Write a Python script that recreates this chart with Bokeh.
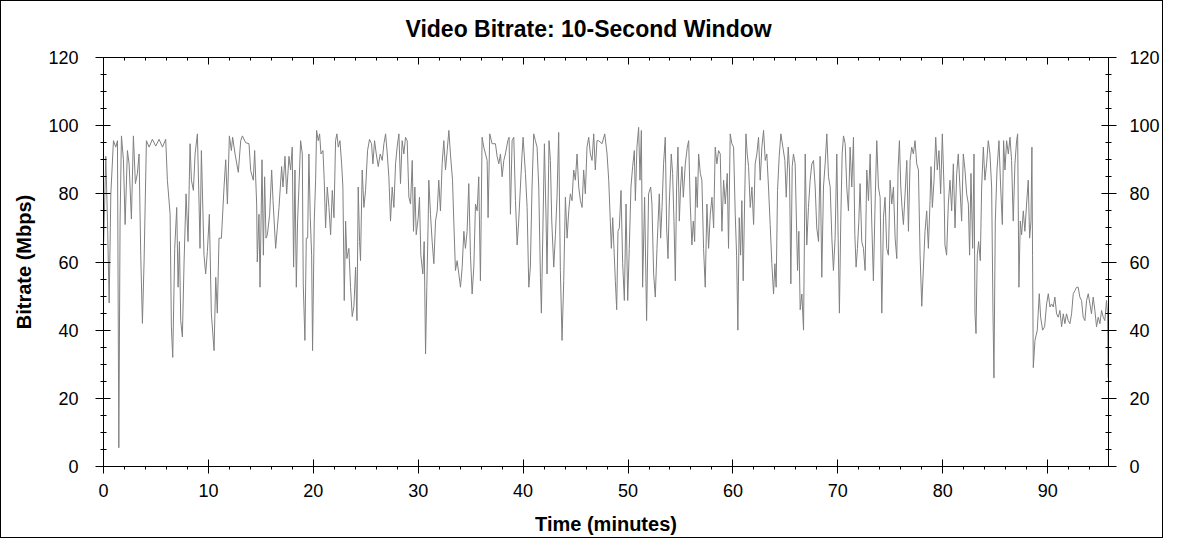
from bokeh.plotting import figure
from bokeh.models import LinearAxis, SingleIntervalTicker, Range1d
from bokeh.embed import file_html
from bokeh.resources import INLINE

title_text = "Video Bitrate: 10-Second Window"
x_label = "Time (minutes)"
y_label = "Bitrate (Mbps)"

time_min = [
    0.02, 0.22, 0.38, 0.54, 0.70, 0.95, 1.17, 1.33, 1.46, 1.58, 1.71, 1.90, 2.06, 2.28, 2.44, 2.66, 2.85, 3.04, 3.23, 3.39,
    3.55, 3.71, 3.87, 4.09, 4.35, 4.66, 4.98, 5.30, 5.62, 5.93, 6.09, 6.35, 6.47, 6.60, 6.79, 6.98, 7.11, 7.24, 7.36, 7.52,
    7.68, 7.87, 8.06, 8.25, 8.38, 8.57, 8.73, 8.95, 9.11, 9.20, 9.33, 9.58, 9.74, 9.90, 10.09, 10.28, 10.54, 10.70, 10.85, 11.01,
    11.24, 11.49, 11.65, 11.81, 12.00, 12.19, 12.31, 12.54, 12.85, 13.08, 13.24, 13.55, 13.87, 14.03, 14.28, 14.41, 14.60, 14.66, 14.82, 14.92,
    15.11, 15.24, 15.36, 15.49,
    15.62, 15.84, 16.03, 16.16, 16.41, 16.57, 16.73, 16.98, 17.11, 17.30, 17.46, 17.68, 17.84, 17.99, 18.12, 18.25, 18.38, 18.50, 18.63, 18.79,
    18.95, 19.04, 19.20, 19.33, 19.46, 19.58, 19.71, 19.84, 19.93, 20.09, 20.22, 20.31, 20.47, 20.60, 20.73, 20.92, 21.04, 21.17, 21.33, 21.49,
    21.65, 21.81, 21.97, 22.12, 22.25, 22.38, 22.54, 22.70, 22.82, 22.95, 23.08, 23.20, 23.39, 23.55, 23.71, 23.87, 24.03, 24.16, 24.28, 24.41,
    24.50, 24.66, 24.82, 24.98, 25.17, 25.36, 25.55, 25.68, 25.84, 26.00, 26.19, 26.38, 26.57, 26.73, 26.89, 27.05, 27.20, 27.36, 27.52, 27.68,
    27.84, 27.99, 28.16, 28.31, 28.47, 28.63, 28.79, 28.95, 29.11, 29.27, 29.43, 29.55, 29.68, 29.81, 30.00, 30.12, 30.25, 30.44, 30.57, 30.70,
    30.82, 30.95, 31.01, 31.17,
    31.33, 31.49, 31.65, 31.81, 31.96, 32.12, 32.28, 32.44, 32.60, 32.76, 32.92, 33.07, 33.27, 33.39, 33.55, 33.71, 33.87, 34.03, 34.19, 34.35,
    34.50, 34.66, 34.82, 34.98, 35.14, 35.30, 35.46, 35.62, 35.77, 35.93, 36.09, 36.25, 36.57, 36.66, 36.82, 37.04, 37.36, 37.52, 37.68, 37.84,
    38.00, 38.16, 38.31, 38.54, 38.66, 38.79, 38.95, 39.11, 39.27, 39.43, 39.58, 39.74, 39.90, 40.00, 40.22, 40.38, 40.54, 40.69, 40.85, 41.01,
    41.17, 41.33, 41.49, 41.65, 41.74, 41.87, 42.03, 42.19, 42.28, 42.47, 42.60, 42.73, 42.92, 43.08, 43.23, 43.39, 43.55, 43.71, 43.87, 44.03,
    44.19, 44.35, 44.50, 44.66, 44.82, 44.98, 45.14, 45.30, 45.46, 45.62, 45.77, 45.93, 46.09, 46.25, 46.41, 46.57, 46.73, 46.88, 47.04,
    47.20, 47.52, 47.78, 48.00, 48.16, 48.31, 48.41, 48.54, 48.66, 48.79, 48.92, 49.04, 49.17, 49.33, 49.49, 49.65, 49.81, 49.97, 50.12, 50.28,
    50.44, 50.60, 50.70, 50.85, 51.01, 51.14, 51.27, 51.39, 51.58, 51.77, 51.96, 52.16, 52.28, 52.44, 52.60, 52.76, 52.98, 53.11, 53.24, 53.39,
    53.55, 53.68, 53.81, 53.93, 54.12, 54.25, 54.38, 54.51, 54.63, 54.76, 54.89, 55.01, 55.14, 55.27, 55.46, 55.65, 55.78, 55.93, 56.09, 56.22,
    56.35, 56.47, 56.60, 56.73, 56.89, 57.04, 57.20, 57.36, 57.52, 57.68, 57.84, 58.00, 58.16, 58.31, 58.47, 58.63, 58.79, 58.95, 59.11, 59.27,
    59.46, 59.58, 59.74, 59.90, 60.06, 60.22, 60.35, 60.47, 60.60, 60.73, 60.85, 60.98, 61.11, 61.24, 61.36, 61.49, 61.65, 61.81, 61.97, 62.12,
    62.28, 62.44, 62.60,
    62.76, 62.92, 63.08, 63.23, 63.39, 63.55, 63.71, 63.87, 64.00, 64.12, 64.25, 64.41, 64.57, 64.76, 64.95, 65.08, 65.27, 65.39, 65.52, 65.65,
    65.77, 65.93, 66.03, 66.16, 66.28, 66.41, 66.57, 66.73, 66.89, 67.04, 67.20, 67.36, 67.52, 67.68, 67.84, 67.99, 68.16, 68.31, 68.47, 68.63,
    68.79, 68.95, 69.11, 69.27, 69.43, 69.58, 69.74, 69.90, 70.03, 70.15, 70.28, 70.41, 70.54, 70.70, 70.85, 71.01, 71.17, 71.33, 71.49, 71.62,
    71.74, 71.87, 72.00, 72.12, 72.28, 72.44, 72.60, 72.76, 72.92, 73.08, 73.23, 73.39, 73.55, 73.71, 73.87, 74.03, 74.19, 74.35, 74.50, 74.66,
    74.82, 74.98, 75.14, 75.30, 75.46, 75.62, 75.74, 75.87, 76.00, 76.12, 76.25, 76.41, 76.57, 76.73, 76.89, 77.04, 77.20, 77.36, 77.52, 77.68,
    77.84, 78.00, 78.16,
    78.31, 78.47, 78.63, 78.79, 78.88, 79.01, 79.17, 79.33, 79.48, 79.64, 79.80, 79.96, 80.12, 80.21, 80.37, 80.53, 80.69, 80.85, 81.01, 81.17,
    81.33, 81.48, 81.64, 81.80, 81.96, 82.12, 82.28, 82.44, 82.56, 82.69, 82.85, 82.98, 83.07, 83.17, 83.29, 83.42, 83.58, 83.71, 83.87, 84.02,
    84.18, 84.34, 84.50, 84.66, 84.79, 84.88, 85.01, 85.17, 85.36, 85.52, 85.68, 85.80, 85.93, 86.09, 86.25, 86.41, 86.56, 86.72, 86.88, 87.04,
    87.14, 87.26, 87.39, 87.52, 87.68, 87.83, 87.99, 88.15, 88.28, 88.41, 88.50, 88.56,
    88.63, 88.79, 89.01, 89.20, 89.33, 89.52, 89.71, 89.90, 90.06, 90.22, 90.37, 90.53, 90.69, 90.85, 91.01, 91.17, 91.33, 91.49, 91.64, 91.80,
    91.96, 92.12, 92.28, 92.44, 92.60, 92.76, 92.91, 93.07, 93.23, 93.39, 93.55, 93.71, 93.87, 94.03, 94.18, 94.34, 94.50, 94.66, 94.82, 94.98,
    95.14, 95.30, 95.45, 95.61, 95.71, 95.77,
]

bitrate_mbps = [
    66, 91, 72, 48, 80, 95.6, 93.7, 95.6, 5.5, 72, 97, 90, 71, 92.7, 88.8, 72.6, 97, 83, 86, 91.7,
    62, 42, 60.4, 95.6, 93.7, 96, 94, 96, 93.7, 96, 84, 74, 41, 32, 64, 76, 52.6, 66, 42.8, 38,
    60, 80, 66, 94.7, 84, 81, 91.7, 97.6, 77, 64, 92.7, 62, 56.5, 63, 74, 45, 34, 55.5, 45, 67,
    67, 82, 90, 77, 97, 92.7, 96.6, 91.7, 86.3, 95.6, 97, 95, 94.7, 86.8, 84, 92.7, 77, 60, 74, 52.6,
    90, 62, 85, 67,
    68, 74, 87, 78, 64, 70, 76, 88, 82, 91, 80, 91, 87, 93.7, 58.5, 87, 52.6, 72, 82, 95.6,
    91.7, 53.6, 37, 67, 67, 91.7, 73, 62, 34, 72, 84, 98.6, 95.6, 97.6, 91.7, 92.7, 84, 70, 82, 76,
    68, 81, 73, 95.6, 97.6, 93.7, 95.6, 88.8, 82, 48.7, 72, 61, 64, 52.6, 44, 47, 58.5, 42.8, 82, 66,
    60.4, 87, 76, 81, 92.7, 96, 94.7, 88.8, 95.6, 91.7, 88, 91.7, 89.8, 94.7, 97.6, 91.7, 85, 72, 82, 76,
    88.8, 93.7, 97.6, 83, 95.6, 91.7, 96.6, 95.6, 79, 77, 89.8, 69, 82, 68, 73, 79, 62, 56.5, 66, 33,
    52.6, 72, 84, 74,
    66, 59.5, 72, 75, 84, 75, 88.8, 95.6, 87, 92.7, 98.6, 91.7, 84, 72, 57.5, 60.4, 56.5, 52.6, 58.5, 69,
    64, 69, 83, 62, 50.6, 58.5, 77, 75, 85, 54.5, 96.6, 93.7, 89.8, 73, 97.6, 94.7, 94.7, 91, 88.8, 91.7,
    85, 89.8, 91.7, 95.6, 96.6, 74, 95.6, 96.6, 78, 65, 72, 82, 91.7, 96.6, 86, 76, 52.6, 58.5, 82, 97.6,
    95.6, 93.7, 82, 55.5, 45, 67, 94.7, 72, 56.5, 95.6, 89.8, 72, 58.5, 68, 79, 98, 57.5, 37, 54.5, 79,
    67, 75, 80, 78, 87, 84, 91.7, 82, 78, 76, 87, 80, 93.7, 96.6, 91.7, 89.8, 97.6, 87, 95.6,
    95.6, 94.7, 97.6, 91.7, 84, 72, 64, 73, 64, 54.5, 46, 69, 70, 81, 59.5, 48.7, 77, 48.7, 64, 82,
    88, 92.7, 78, 93.7, 99.5, 84, 98.6, 52.6, 79, 42.8, 80, 82, 77, 56.5, 49.7, 64, 80, 67, 76, 88.8,
    96.6, 70, 61, 77, 91.7, 86, 72, 54.5, 82, 93.7, 72, 82, 88, 79, 88.8, 93.7, 95.6, 77, 65, 72,
    66, 85, 76, 91.7, 86, 84, 64, 52.6, 77, 64, 74, 79, 70, 93.7, 88.8, 92.7, 91.7, 69, 84, 77,
    86, 64, 97.6, 94.7, 93.7, 74, 62, 40, 73, 62, 78, 54.5, 77, 97.6, 91.7, 88, 76, 82, 71, 88.8,
    91.7, 96.6, 84,
    93.7, 98.6, 89.8, 91.7, 82, 71, 59.5, 50.6, 59.5, 52.6, 81, 91, 97.6, 93.7, 89.8, 79, 93.7, 87, 53.6, 88,
    91.7, 88.8, 75, 57.5, 69, 46, 50.6, 40, 91.7, 65, 76, 84, 88.8, 89.8, 82, 70, 66, 91, 55.5, 82,
    88.8, 97.6, 85, 82, 67, 57.5, 67, 91.7, 67, 45, 72, 91.7, 97, 94.7, 82, 75, 93.7, 82, 96.6, 68,
    58.5, 64, 72, 83, 66, 64, 57.5, 87, 78, 91.7, 72, 54.5, 77, 95.6, 82, 79, 45, 73, 79, 64,
    62, 84, 77, 82, 67, 61, 87, 95.6, 82, 76, 71, 80, 89.8, 69, 89.8, 93.7, 91.7, 95.6, 88.8, 87,
    62, 47, 58.5,
    69, 75, 64, 78, 88, 76, 84, 96.6, 87, 92.7, 80, 97.6, 82, 65, 62, 77, 84, 75, 88.8, 70,
    86, 91.7, 82, 72, 91.7, 87, 80, 77, 62, 86, 64, 91.7, 45, 39, 62, 66, 60.4, 82, 93.7, 84,
    88.8, 95.6, 91.7, 82, 45, 26, 72, 87, 95.6, 82, 71, 95.6, 87, 95.6, 91.7, 96.6, 89.8, 72, 88.8, 95.6,
    97.6, 52.6, 72, 68, 75, 69, 77, 84, 67, 72, 93.7, 62,
    29, 37, 40, 50.7, 43.8, 40, 41, 47.7, 50.7, 46.8, 47.7, 46.8, 49.7, 44.8, 43.8, 45.8, 41, 44.8, 41.9, 44.8,
    42.8, 41.9, 44.8, 50.7, 51.6, 52.6, 52.6, 49.7, 48.7, 43.8, 42.8, 48.7, 50.7, 47.7, 44.8, 49.7, 45.8, 41, 43.8, 41.9,
    45.8, 43.8, 42.8, 48.7, 44.8, 26,
]

x_ticks_interval = 10
y_ticks_interval = 20

FONT = "Liberation Sans"

p = figure(
    frame_width=1005, frame_height=409,
    min_border_left=102, min_border_right=53, min_border_top=56, min_border_bottom=69,
    x_range=Range1d(0, 95.8), y_range=Range1d(0, 120),
    output_backend="svg", toolbar_location=None,
    x_axis_location=None, y_axis_location=None,
)
p.title.text = title_text
p.title.text_font = FONT
p.title.text_font_size = "23px"
p.title.text_font_style = "bold"
p.title.vertical_align = "top"
p.title.align = "left"
p.title.offset = 302
p.title.standoff = 27
p.title.text_color = "black"

p.xgrid.visible = False
p.ygrid.visible = False
p.outline_line_color = "black"
p.outline_line_width = 1
p.background_fill_color = "white"
p.border_fill_color = "white"
p.styles = {"border": "1px solid black"}

def style_axis(ax):
    ax.axis_line_color = "black"
    ax.major_tick_line_color = "black"
    ax.minor_tick_line_color = "black"
    ax.major_label_text_font = FONT
    ax.major_label_text_font_size = "18px"
    ax.major_label_text_color = "black"
    ax.axis_label_text_font = FONT
    ax.axis_label_text_font_size = "20px"
    ax.axis_label_text_font_style = "bold"
    ax.axis_label_text_color = "black"

xb = LinearAxis(ticker=SingleIntervalTicker(interval=x_ticks_interval, num_minor_ticks=5), axis_label=x_label)
style_axis(xb)
xb.major_tick_in = 7; xb.major_tick_out = 7; xb.minor_tick_in = 0; xb.minor_tick_out = 3
xb.major_label_standoff = 10; xb.axis_label_standoff = 13
p.add_layout(xb, "below")

xt = LinearAxis(ticker=SingleIntervalTicker(interval=x_ticks_interval, num_minor_ticks=5))
style_axis(xt)
xt.major_tick_in = 7; xt.major_tick_out = 0; xt.minor_tick_in = 3; xt.minor_tick_out = 0
xt.major_label_text_color = None
xt.major_label_text_font_size = "1px"
xt.major_label_standoff = 0
p.add_layout(xt, "above")

yl = LinearAxis(ticker=SingleIntervalTicker(interval=y_ticks_interval, num_minor_ticks=4), axis_label=y_label)
style_axis(yl)
yl.major_tick_in = 7; yl.major_tick_out = 8; yl.minor_tick_in = 3; yl.minor_tick_out = 3
yl.major_label_standoff = 17; yl.axis_label_standoff = 10
p.add_layout(yl, "left")

yr = LinearAxis(ticker=SingleIntervalTicker(interval=y_ticks_interval, num_minor_ticks=4))
style_axis(yr)
yr.major_tick_in = 7; yr.major_tick_out = 8; yr.minor_tick_in = 3; yr.minor_tick_out = 3
yr.major_label_standoff = 13
p.add_layout(yr, "right")

p.line(time_min, bitrate_mbps, line_color="#808080", line_width=1)

open("out.html", "w").write(file_html(p, INLINE))
